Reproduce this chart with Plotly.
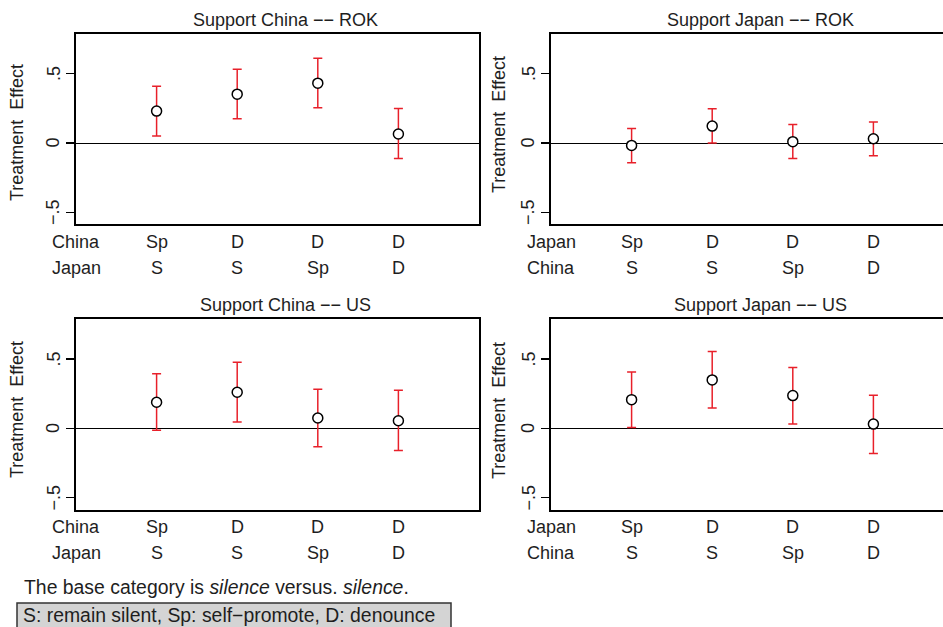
import plotly.graph_objects as go

W, H = 943, 627

# ---- data ----
titles = ["Support China \u2212\u2212 ROK", "Support Japan \u2212\u2212 ROK",
          "Support China \u2212\u2212 US", "Support Japan \u2212\u2212 US"]
row_names = [["China", "Japan"], ["Japan", "China"], ["China", "Japan"], ["Japan", "China"]]
row1 = ["Sp", "D", "D", "D"]
row2 = ["S", "S", "Sp", "D"]
positions = [1, 2, 3, 4]

est_china_rok = [0.230, 0.352, 0.431, 0.065]
lo_china_rok = [0.050, 0.175, 0.254, -0.112]
hi_china_rok = [0.409, 0.531, 0.610, 0.249]

est_japan_rok = [-0.017, 0.122, 0.010, 0.031]
lo_japan_rok = [-0.141, 0.000, -0.112, -0.091]
hi_japan_rok = [0.105, 0.246, 0.134, 0.151]

est_china_us = [0.188, 0.260, 0.075, 0.055]
lo_china_us = [-0.014, 0.046, -0.132, -0.159]
hi_china_us = [0.394, 0.476, 0.281, 0.274]

est_japan_us = [0.207, 0.349, 0.236, 0.031]
lo_japan_us = [0.007, 0.147, 0.031, -0.180]
hi_japan_us = [0.406, 0.553, 0.438, 0.238]

y_ticks = [-0.5, 0, 0.5]
y_ticktext = ["\u2212.5", "0", ".5"]

note = "The base category is <i>silence</i> versus. <i>silence</i>."
legend_text = "S: remain silent, Sp: self\u2212promote, D: denounce"

panels = [
    (est_china_rok, lo_china_rok, hi_china_rok),
    (est_japan_rok, lo_japan_rok, hi_japan_rok),
    (est_china_us, lo_china_us, hi_china_us),
    (est_japan_us, lo_japan_us, hi_japan_us),
]

FONT = "Liberation Sans, Arial, Helvetica, sans-serif"
TXT = "#1e1e1e"
FS = 18
FS_NOTE = 19.4

def px(x):
    return x / W

def py(y):
    return 1 - y / H

# geometry (pixels)
unit = 80.6
left_x0 = [76, 551, 76, 551]
frame_top = [34, 34, 319.3, 319.3]
frame_bot = [224.3, 224.3, 509.7, 509.7]
row_y = [(242, 268), (242, 268), (527, 553), (527, 553)]
title_pos = [(285, 20), (760, 20), (285, 305), (760, 305)]
ytitle_pos = [(17, 133), (499, 124), (17, 410), (499, 410)]
yrange = [-0.585, 0.785]

fig = go.Figure()
annotations = []
shapes = []

for i, (est, lo, hi) in enumerate(panels):
    k = i + 1
    xa = "xaxis" if k == 1 else f"xaxis{k}"
    ya = "yaxis" if k == 1 else f"yaxis{k}"
    xr = "x" if k == 1 else f"x{k}"
    yr = "y" if k == 1 else f"y{k}"
    x0 = left_x0[i]
    x1 = min(x0 + 5 * unit, W)
    xmax = (x1 - x0) / unit
    right_side = (i % 2 == 1)

    fig.add_trace(go.Scatter(
        x=positions, y=est, xaxis=xr, yaxis=yr, mode="markers",
        marker=dict(symbol="circle", size=10, color="white",
                    line=dict(color="black", width=1.5)),
        error_y=dict(type="data", symmetric=False,
                     array=[h - e for h, e in zip(hi, est)],
                     arrayminus=[e - l for e, l in zip(est, lo)],
                     color="#e8202a", thickness=1.5, width=4.5),
        showlegend=False, hoverinfo="skip"))

    fig.layout[xa] = dict(domain=[px(x0), px(x1)], range=[0, xmax], anchor=yr,
                          showgrid=False, zeroline=False, showticklabels=False,
                          ticks="", showline=True, linecolor="black", linewidth=2,
                          mirror=True, fixedrange=True)
    fig.layout[ya] = dict(domain=[py(frame_bot[i]), py(frame_top[i])], range=yrange,
                          anchor=xr, showgrid=False, zeroline=True,
                          zerolinecolor="black", zerolinewidth=1,
                          tickvals=y_ticks, showticklabels=False,
                          ticks="outside", ticklen=8, tickwidth=1.2, tickcolor="black",
                          showline=True, linecolor="black", linewidth=2,
                          mirror=(not right_side), fixedrange=True)

    # y tick labels (rotated), placed on the axis scale
    for tv, tt in zip(y_ticks, y_ticktext):
        annotations.append(dict(x=px(x0 - 22.5), y=tv, xref="paper", yref=yr,
                                text=tt, textangle=-90, showarrow=False,
                                xanchor="center", yanchor="middle",
                                font=dict(family=FONT, size=FS, color=TXT)))

    # row labels
    for r, (yy, labels) in enumerate(zip(row_y[i], [row1, row2])):
        annotations.append(dict(x=0, y=py(yy), xref=xr, yref="paper",
                                text=row_names[i][r], showarrow=False,
                                xanchor="center", yanchor="middle",
                                font=dict(family=FONT, size=FS, color=TXT)))
        for p, lab in zip(positions, labels):
            annotations.append(dict(x=p, y=py(yy), xref=xr, yref="paper",
                                    text=lab, showarrow=False,
                                    xanchor="center", yanchor="middle",
                                    font=dict(family=FONT, size=FS, color=TXT)))
    # title
    tx, ty = title_pos[i]
    annotations.append(dict(x=px(tx), y=py(ty), xref="paper", yref="paper",
                            text=titles[i], showarrow=False,
                            xanchor="center", yanchor="middle",
                            font=dict(family=FONT, size=FS, color=TXT)))
    # y title
    yx, yy = ytitle_pos[i]
    annotations.append(dict(x=px(yx), y=py(yy), xref="paper", yref="paper",
                            text="Treatment\u00a0\u00a0Effect", textangle=-90,
                            showarrow=False, xanchor="center", yanchor="middle",
                            font=dict(family=FONT, size=FS, color=TXT)))

# footer note
annotations.append(dict(x=px(22), y=py(587), xref="paper", yref="paper",
                        text=note, showarrow=False, xanchor="left", yanchor="middle",
                        font=dict(family=FONT, size=FS_NOTE, color=TXT)))
shapes.append(dict(type="rect", xref="paper", yref="paper",
                   x0=px(17), x1=px(451), y0=py(640), y1=py(603),
                   fillcolor="#d4d4d4", line=dict(color="#333333", width=1.5),
                   layer="below"))
annotations.append(dict(x=px(21), y=py(615), xref="paper", yref="paper",
                        text=legend_text, showarrow=False, xanchor="left",
                        yanchor="middle",
                        font=dict(family=FONT, size=FS_NOTE, color=TXT)))

fig.update_layout(width=W, height=H, margin=dict(l=0, r=0, t=0, b=0),
                  paper_bgcolor="white", plot_bgcolor="white",
                  annotations=annotations, shapes=shapes,
                  font=dict(family=FONT, size=FS, color=TXT))

fig.write_html("out.html", config={"displayModeBar": False, "staticPlot": True},
               post_script="document.body.style.margin='0';document.body.style.overflow='hidden';")
